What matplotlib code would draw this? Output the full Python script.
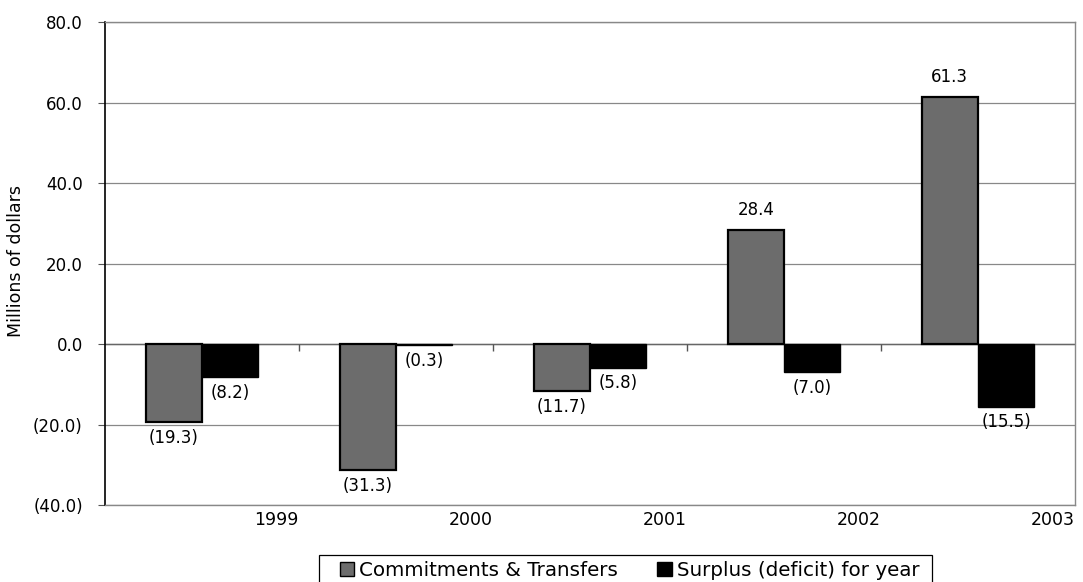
import matplotlib
matplotlib.use("Agg")
import matplotlib.pyplot as plt
import numpy as np
from matplotlib.ticker import FuncFormatter
from matplotlib.patches import Patch, Rectangle

plt.rcParams['font.family'] = ['DejaVu Sans']

years = ['1999', '2000', '2001', '2002', '2003']
commitments = [-19.3, -31.3, -11.7, 28.4, 61.3]
surplus = [-8.2, -0.3, -5.8, -7.0, -15.5]
series_names = ['Commitments & Transfers', 'Surplus (deficit) for year']

W, H = 1083, 582
fig = plt.figure(figsize=(W / 100, H / 100), dpi=100)
ax = fig.add_axes([0.097, 0.132, 0.8956, 0.830])

x = np.arange(len(years))
w = 0.29
b1 = ax.bar(x - w / 2, commitments, w, color='#6c6c6c', edgecolor='black', linewidth=1.6, zorder=3)
b2 = ax.bar(x + w / 2, surplus, w, color='black', edgecolor='black', linewidth=1.0, zorder=3)

def fmt(v):
    return f"({abs(v):.1f})" if v < 0 else f"{v:.1f}"

for bars, vals in ((b1, commitments), (b2, surplus)):
    for r, v in zip(bars, vals):
        cx = r.get_x() + r.get_width() / 2
        if v >= 0:
            ax.annotate(fmt(v), (cx, v), xytext=(0, 8), textcoords='offset points',
                        ha='center', va='bottom', fontsize=12, zorder=5)
        else:
            ax.annotate(fmt(v), (cx, v), xytext=(0, -5), textcoords='offset points',
                        ha='center', va='top', fontsize=12, zorder=5)

ax.set_xlim(-0.5, len(years) - 0.5)
ax.set_ylim(-40, 80)
ax.set_yticks(np.arange(-40, 81, 20))
ax.yaxis.set_major_formatter(FuncFormatter(lambda v, p: fmt(v)))
ax.tick_params(axis='y', labelsize=12, length=5, pad=11, direction='out', color='#555555')
ax.grid(axis='y', color='#888888', linewidth=0.9, zorder=0)
ax.axhline(0, color='#666666', linewidth=1.0, zorder=2)
# category boundary ticks on the zero line
ax.vlines(x[:-1] + 0.5, -1.6, 0, color='#555555', linewidth=1.0, zorder=2)

ax.set_xticks(x + 0.385)
ax.set_xticklabels(years, fontsize=12.5)
ax.tick_params(axis='x', length=0, pad=4)

ax.spines['left'].set_color('black')
ax.spines['left'].set_linewidth(1.2)
for s in ('bottom', 'right', 'top'):
    ax.spines[s].set_color('#888888')
    ax.spines[s].set_linewidth(1.0)

ax.set_ylabel('Millions of dollars', fontsize=12.5)
ax.yaxis.set_label_coords(-0.0825, 0.505)

handles = [Patch(facecolor='#6c6c6c', edgecolor='black', linewidth=1.0),
           Patch(facecolor='black', edgecolor='black')]
leg = fig.legend(handles, series_names, loc='upper center',
                 bbox_to_anchor=(629.5 / W, 1 - 555 / H),
                 ncol=2, fontsize=14.3, frameon=False,
                 handlelength=0.75, handleheight=0.75, handletextpad=0.25, columnspacing=1.95,
                 borderpad=0.3, borderaxespad=0)

# legend frame, wider horizontally than the default padding
fig.canvas.draw()
bb = leg.get_window_extent()
x0, x1 = bb.x0 - 15, bb.x1 + 7
fig.add_artist(Rectangle((x0 / W, bb.y0 / H), (x1 - x0) / W, bb.height / H,
                         transform=fig.transFigure, fill=False, edgecolor='black',
                         linewidth=0.9))

fig.savefig('out.png', dpi=100)
